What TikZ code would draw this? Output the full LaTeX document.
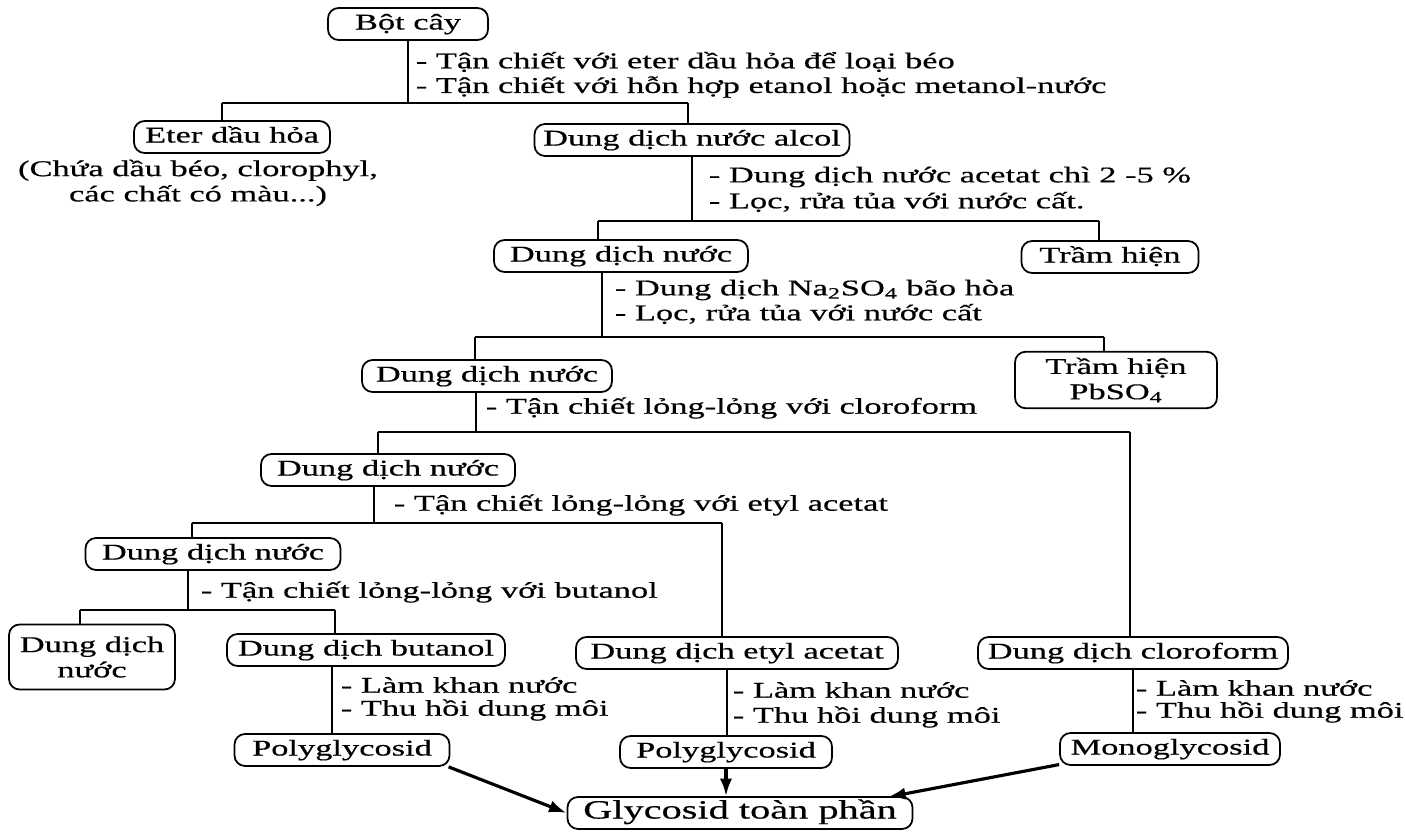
\documentclass[tikz,border=0pt]{standalone}
\usepackage{fontspec}
\setmainfont[FakeStretch=1.53,FakeBold=0.5]{Liberation Serif}
\usetikzlibrary{arrows.meta}

\begin{document}
\begin{tikzpicture}[x=0.02cm,y=-0.02cm,line width=1pt,
		box/.style={draw,rounded corners=6pt,inner xsep=0pt,inner ysep=2pt,minimum width=#1*0.02cm,minimum height=0.64cm,text height=0.85em,text depth=0.22em,font=\fontsize{12.8}{14.4}\selectfont},
		boxtwo/.style={draw,rounded corners=6pt,inner xsep=0pt,minimum width=#1*0.02cm,align=center,font=\fontsize{12.8}{14.4}\selectfont},
		lbl/.style={inner sep=0pt,anchor=west,font=\fontsize{12.8}{14.4}\selectfont},
		bigarrow/.style={line width=1.8pt,-{Latex[length=10pt,width=7pt]}}]
		\useasboundingbox (0,0) rectangle (1406,834);
		% boxes
		\node[box=160](bot) at (408,24) {Bột cây};
		\node[box=196](eter) at (232,137) {Eter dầu hỏa};
		\node[box=315](alcol) at (692,140) {Dung dịch nước alcol};
		\node[box=254](nuoc1) at (621,256) {Dung dịch nước};
		\node[box=177](tram1) at (1110,257) {Trầm hiện};
		\node[box=250](nuoc2) at (487,376) {Dung dịch nước};
		\node[boxtwo=202,minimum height=1cm](tram2) at (1116,380) {Trầm hiện\\PbSO\textsubscript{4}};
		\node[box=254](nuoc3) at (388,470) {Dung dịch nước};
		\node[box=255](nuoc4) at (213,554) {Dung dịch nước};
		\node[boxtwo=166,minimum height=1.3cm](nuoc5) at (92,657) {Dung dịch\\nước};
		\node[box=278](butanol) at (366,650) {Dung dịch butanol};
		\node[box=322](etyl) at (737,653) {Dung dịch etyl acetat};
		\node[box=310](cloro) at (1133,653) {Dung dịch cloroform};
		\node[box=215](poly1) at (342,750) {Polyglycosid};
		\node[box=212](poly2) at (726,752) {Polyglycosid};
		\node[box=220](mono) at (1170,749) {Monoglycosid};
		\node[box=345,font=\fontsize{15}{17}\selectfont](glyco) at (740,813) {Glycosid toàn phần};
		% notes
		\node[lbl](l1) at (415,62) {- Tận chiết với eter dầu hỏa để loại béo};
		\node[lbl](l2) at (415,87) {- Tận chiết với hỗn hợp etanol hoặc metanol-nước};
		\node[lbl,anchor=center,align=center](eternote) at (198,183) {(Chứa dầu béo, clorophyl,\\các chất có màu...)};
		\node[lbl](l3) at (708,177) {- Dung dịch nước acetat chì 2 -5 \%};
		\node[lbl](l4) at (708,202) {- Lọc, rửa tủa với nước cất.};
		\node[lbl](l5) at (614,290) {- Dung dịch Na\textsubscript{2}SO\textsubscript{4} bão hòa};
		\node[lbl](l6) at (614,314) {- Lọc, rửa tủa với nước cất};
		\node[lbl](l7) at (485,408) {- Tận chiết lỏng-lỏng với cloroform};
		\node[lbl](l8) at (393,505) {- Tận chiết lỏng-lỏng với etyl acetat};
		\node[lbl](l9) at (200,592) {- Tận chiết lỏng-lỏng với butanol};
		\node[lbl](l10) at (340,685) {- Làm khan nước};
		\node[lbl](l11) at (340,710) {- Thu hồi dung môi};
		\node[lbl](l12) at (732,690) {- Làm khan nước};
		\node[lbl](l13) at (732,717) {- Thu hồi dung môi};
		\node[lbl](l14) at (1135,688) {- Làm khan nước};
		\node[lbl](l15) at (1135,712) {- Thu hồi dung môi};
		% branch points
		\coordinate (h1l) at (222,103);
		\coordinate (h1r) at (688,103);
		\coordinate (h2l) at (598,221);
		\coordinate (h2r) at (1099,221);
		\coordinate (v1) at (602,337);
		\coordinate (h3l) at (475,337);
		\coordinate (h3r) at (1104,337);
		\coordinate (v2) at (476,432);
		\coordinate (h4l) at (378,432);
		\coordinate (h4r) at (1130,432);
		\coordinate (v3) at (374,523);
		\coordinate (h5l) at (192,523);
		\coordinate (h5r) at (722,523);
		\coordinate (v4) at (188,610);
		\coordinate (h6l) at (80,610);
		\coordinate (h6r) at (335,610);
		\coordinate (v5) at (332,0);
		\coordinate (v6) at (727,0);
		\coordinate (gtip) at (888,797);
		% tree lines
		\draw (bot.south) -- (bot.south |- h1l);
		\draw (h1l) -- (h1r);
		\draw (h1l) -- (h1l |- eter.north);
		\draw (h1r) -- (h1r |- alcol.north);
		\draw (alcol.south) -- (alcol.south |- h2l);
		\draw (h2l) -- (h2r);
		\draw (h2l) -- (h2l |- nuoc1.north);
		\draw (h2r) -- (h2r |- tram1.north);
		\draw (v1 |- nuoc1.south) -- (v1);
		\draw (h3l) -- (h3r);
		\draw (h3l) -- (h3l |- nuoc2.north);
		\draw (h3r) -- (h3r |- tram2.north);
		\draw (v2 |- nuoc2.south) -- (v2);
		\draw (h4l) -- (h4r);
		\draw (h4l) -- (h4l |- nuoc3.north);
		\draw (h4r) -- (h4r |- cloro.north);
		\draw (v3 |- nuoc3.south) -- (v3);
		\draw (h5l) -- (h5r);
		\draw (h5l) -- (h5l |- nuoc4.north);
		\draw (h5r) -- (h5r |- etyl.north);
		\draw (v4 |- nuoc4.south) -- (v4);
		\draw (h6l) -- (h6r);
		\draw (h6l) -- (h6l |- nuoc5.north);
		\draw (h6r) -- (h6r |- butanol.north);
		\draw (v5 |- butanol.south) -- (v5 |- poly1.north);
		\draw (v6 |- etyl.south) -- (v6 |- poly2.north);
		\draw (cloro.south) -- (cloro.south |- mono.north);
		% to the total
		\draw[bigarrow] (poly1.-9) -- (glyco.west);
		\draw[bigarrow] (poly2.south) -- (poly2.south |- glyco.north);
		\draw[bigarrow] (mono.188) -- (gtip);
	\end{tikzpicture}
\end{document}
